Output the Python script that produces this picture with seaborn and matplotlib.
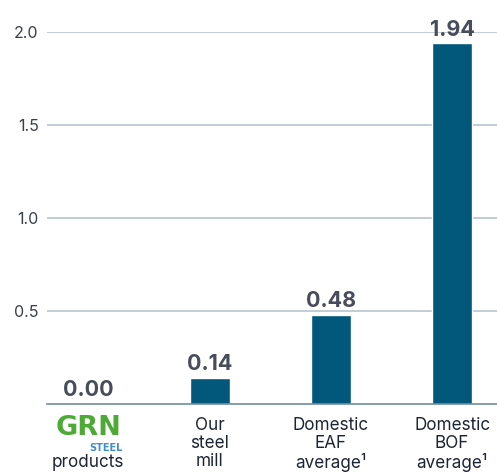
import matplotlib
matplotlib.use("Agg")
import matplotlib.pyplot as plt
import matplotlib.transforms as mtransforms
import seaborn as sns
import pandas as pd

categories = ["products", "Our\nsteel\nmill", "Domestic\nEAF\naverage\u00b9", "Domestic\nBOF\naverage\u00b9"]
values = [0.00, 0.14, 0.48, 1.94]
value_labels = ["0.00", "0.14", "0.48", "1.94"]
yticks = [0.5, 1.0, 1.5, 2.0]
ytick_labels = ["0.5", "1.0", "1.5", "2.0"]

sns.set_theme(style="white")
plt.rcParams['font.family'] = ['Inter', 'DejaVu Sans']

df = pd.DataFrame({"cat": categories, "val": values})

fig = plt.figure(figsize=(4.97, 4.74), dpi=100)
ax = fig.add_axes([47/497, 1-404/474, 1-47/497, (404-32)/474])

sns.barplot(data=df, x="cat", y="val", color="#02587A", saturation=1, width=0.33, ax=ax)

ax.set_ylim(0, 2.0)
ax.set_xlim(-0.34, 3.37)
ax.set_yticks(yticks)
ax.set_yticklabels(ytick_labels, fontsize=11.5, color="#3A3F48")
ax.tick_params(axis="y", length=0, pad=6)
ax.tick_params(axis="x", length=0, pad=9)
ax.set_xticks(range(len(categories)))
ax.set_xticklabels([""] + categories[1:], fontsize=12.3,
                   color="#1C2533", linespacing=1.1)
ax.set_xlabel("")
ax.set_ylabel("")
ax.grid(axis="y", color="#B8C4CE", linewidth=1.2)
ax.set_axisbelow(True)
for s in ["top", "right", "left"]:
    ax.spines[s].set_visible(False)
ax.spines["bottom"].set_color("#6F8CA3")
ax.spines["bottom"].set_linewidth(1.2)

for i, (v, lab) in enumerate(zip(values, value_labels)):
    ax.annotate(lab, (i, v), xytext=(0, 5.5), textcoords="offset points",
                ha="center", va="baseline", fontsize=15.5, fontweight="bold",
                color="#474D5A", clip_on=False)

trans = mtransforms.blended_transform_factory(ax.transData, fig.transFigure)
ax.text(0, 1-435/474, "GRN", transform=trans, ha="center", va="baseline",
        fontsize=19.5, fontweight="bold", color="#4DAA35", clip_on=False,
        family=["DejaVu Sans"])
ax.text(0.285, 1-451/474, "STEEL", transform=trans, ha="right", va="baseline",
        fontsize=7, fontweight="bold", color="#3D8FCB", clip_on=False,
        family=["Liberation Sans Narrow", "DejaVu Sans"])
ax.text(0, 1-467/474, categories[0], transform=trans, ha="center", va="baseline",
        fontsize=12.3, color="#1C2533", clip_on=False)

fig.savefig("out.png", dpi=100)
